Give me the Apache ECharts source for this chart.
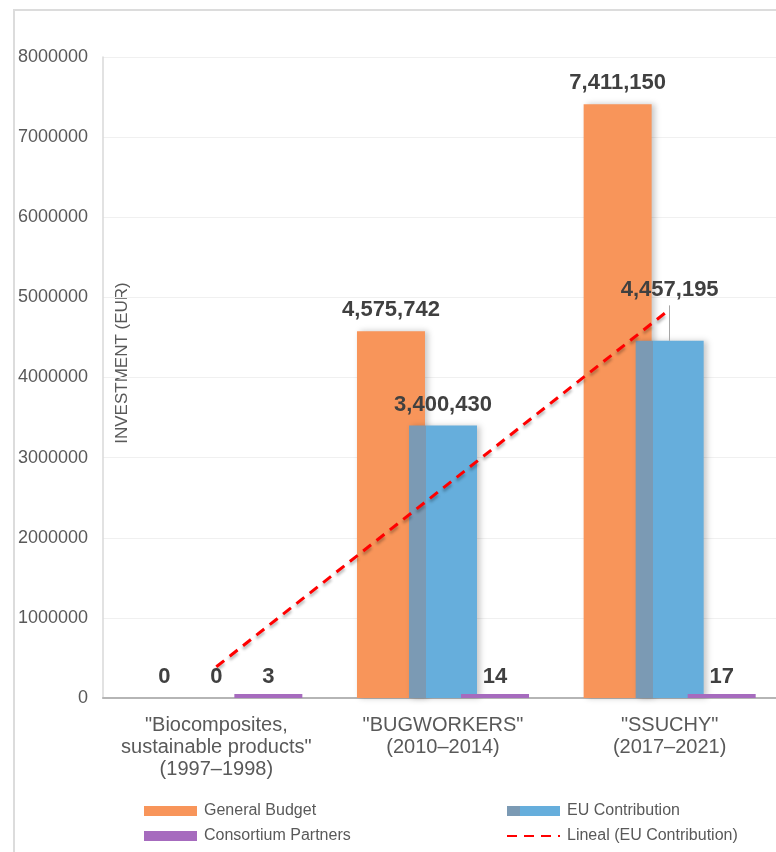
<!DOCTYPE html>
<html>
<head>
<meta charset="utf-8">
<script src="https://cdn.jsdelivr.net/npm/echarts@6/dist/echarts.min.js"></script>
<style>
html,body{margin:0;padding:0;background:#fff;overflow:hidden;width:776px;height:852px;}
#chart{width:800px;height:852px;}
</style>
</head>
<body>
<div id="chart"></div>
<script>
const categories = ['"Biocomposites,\nsustainable products"\n(1997–1998)', '"BUGWORKERS"\n(2010–2014)', '"SSUCHY"\n(2017–2021)'];
const generalBudget = [0, 4575742, 7411150];
const euContribution = [0, 3400430, 4457195];
const consortiumPartners = [3, 14, 17];
const trendEU = [390000, 2620000, 4850000];
const yTicks = [0, 1000000, 2000000, 3000000, 4000000, 5000000, 6000000, 7000000, 8000000];

const FONT = '"Liberation Sans", Arial, sans-serif';
const chart = echarts.init(document.getElementById('chart'), null, {renderer: 'canvas'});
const fmt = p => Number(p.value).toLocaleString('en-US');
const labelStyle = {show: true, position: 'top', distance: 10, fontFamily: FONT, fontSize: 22, fontWeight: 'bold', color: '#404040', formatter: fmt};
const shadow = {shadowColor: 'rgba(0,0,0,0.22)', shadowBlur: 6, shadowOffsetX: 3, shadowOffsetY: 0};

chart.setOption({
  animation: false,
  backgroundColor: '#fff',
  graphic: [
    {type: 'rect', shape: {x: 14, y: 10, width: 800, height: 900}, style: {fill: 'none', stroke: '#dcdcdc', lineWidth: 2}, z: -10, silent: true},
    {type: 'text', x: 122, y: 363, rotation: Math.PI / 2, style: {text: 'INVESTMENT (EUR)', fontFamily: FONT, fontSize: 17, fill: '#595959', align: 'center', verticalAlign: 'middle'}}
  ],
  grid: {left: 103, top: 57, width: 680, height: 641, containLabel: false},
  xAxis: {
    type: 'category', data: categories,
    axisTick: {show: false},
    axisLine: {lineStyle: {color: '#b5b5b5', width: 2}},
    axisLabel: {interval: 0, margin: 16, fontFamily: FONT, fontSize: 20, lineHeight: 22, color: '#595959'}
  },
  yAxis: {
    type: 'value', min: 0, max: 8000000, interval: 1000000,
    axisLine: {show: true, lineStyle: {color: '#d9d9d9', width: 1.5}},
    axisTick: {show: false},
    splitLine: {lineStyle: {color: '#f0f0f0', width: 1}},
    axisLabel: {margin: 15, fontFamily: FONT, fontSize: 18, color: '#595959',
      formatter: v => yTicks.includes(v) ? String(v) : ''}
  },
  legend: [
    {left: 144, top: 803, padding: 0, orient: 'vertical', itemGap: 9, itemWidth: 53, itemHeight: 10,
      textStyle: {fontFamily: FONT, fontSize: 16, color: '#595959', padding: [0, 0, 0, 2]},
      data: [{name: 'General Budget', icon: 'rect'}, {name: 'Consortium Partners', icon: 'rect'}]},
    {left: 506, top: 803, padding: 0, orient: 'vertical', itemGap: 9, itemWidth: 53, itemHeight: 10,
      textStyle: {fontFamily: FONT, fontSize: 16, color: '#595959', padding: [0, 0, 0, 2]},
      data: [{name: 'EU Contribution', icon: 'rect'}, {name: 'Lineal (EU Contribution)', itemStyle: {opacity: 0}}]}
  ],
  series: [
    {name: 'General Budget', type: 'bar', data: generalBudget, barWidth: 68, barGap: '-23.5%',
      itemStyle: Object.assign({color: '#F8955A'}, shadow), label: labelStyle},
    {name: 'EU Contribution', type: 'bar', barWidth: 68, barGap: '-23.5%',
      data: euContribution.map((v, i) => i === 2 ? {value: v, label: {distance: 40}} : v),
      itemStyle: Object.assign({color: {type: 'linear', x: 0, y: 0, x2: 1, y2: 0, colorStops: [
        {offset: 0, color: '#7B9AB4'}, {offset: 0.25, color: '#7B9AB4'}, {offset: 0.25, color: '#66AEDC'}, {offset: 1, color: '#66AEDC'}]}}, shadow),
      label: labelStyle,
      markLine: {silent: true, symbol: 'none', label: {show: false}, lineStyle: {color: '#a6a6a6', width: 1, type: 'solid'},
        data: [[{coord: [2, euContribution[2]]}, {coord: [2, 4900000]}]]}},
    {name: 'Consortium Partners', type: 'bar', data: consortiumPartners, barWidth: 68, barGap: '-23.5%', barMinHeight: 4,
      itemStyle: {color: '#A66BBE'}, label: Object.assign({}, labelStyle, {distance: 6})},
    {name: 'Lineal (EU Contribution)', type: 'line', data: trendEU, symbol: 'none', showSymbol: false, z: 5,
      itemStyle: {color: '#FF0000'},
      lineStyle: {color: '#FF0000', width: 3, type: [10, 7], shadowColor: 'rgba(0,0,0,0.3)', shadowBlur: 3, shadowOffsetY: 3}}
  ]
});
</script>
</body>
</html>
